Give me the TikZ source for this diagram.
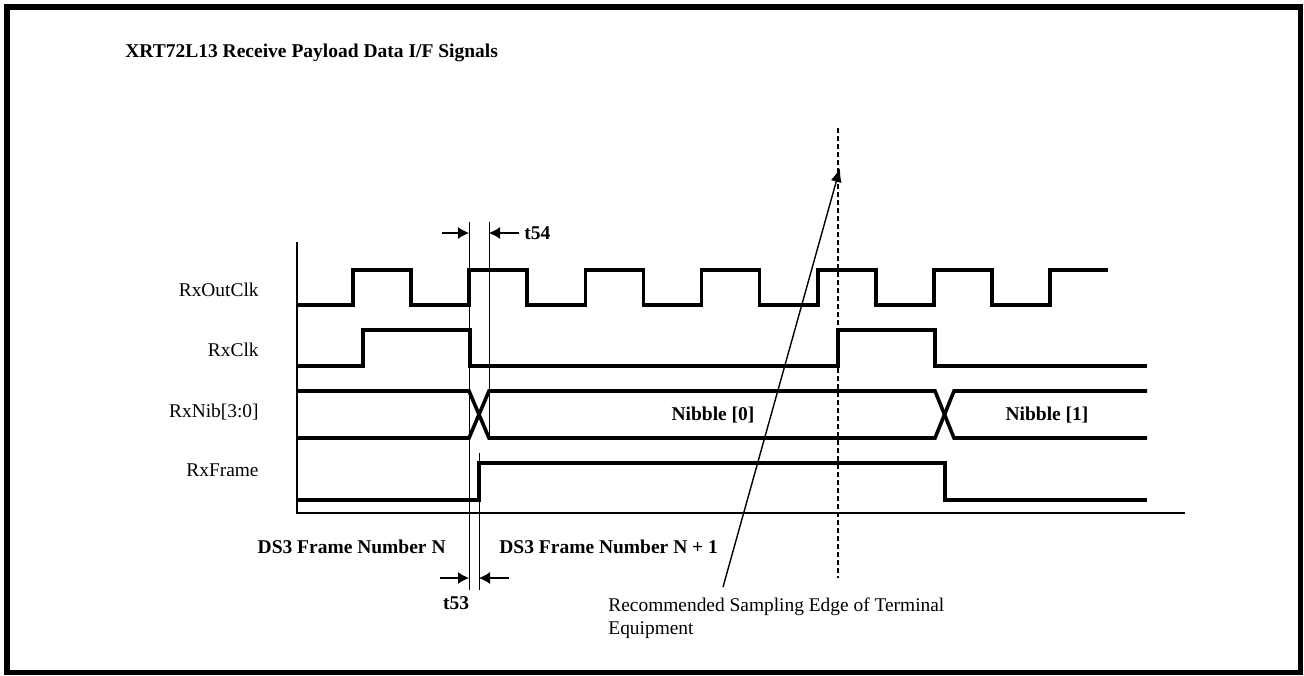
\documentclass[tikz,border=0pt]{standalone}
\usepackage{fontspec}
\setmainfont{Liberation Serif}
\usepackage{tikz}
\usetikzlibrary{arrows.meta,positioning,calc}

\begin{document}
\begin{tikzpicture}[x=0.5pt,y=-0.5pt,>=Latex,
  every node/.style={font=\fontsize{9.7}{11.5}\selectfont,inner sep=0pt},
  bl/.style={font=\fontsize{9.75}{12}\selectfont\bfseries},
  sig/.style={line width=1.8pt,line join=miter},
  axis/.style={line width=1pt},
  guide/.style={line width=0.5pt},
  tarrow/.style={line width=0.6pt,-{Latex[length=5.5pt,width=6pt]}}]
  \useasboundingbox (0,0) rectangle (1304,675);
  \draw[line width=2.75pt] (7,7) rectangle (1300.5,672.5);
  \node[bl,anchor=base west] (title) at (125,57) {XRT72L13 Receive Payload Data I/F Signals};
  % signal names
  \node[anchor=east] (lOut) at (259,290) {RxOutClk};
  \node[anchor=east] (lClk) at (259,350) {RxClk};
  \node[anchor=east] (lNib) at (259,412) {RxNib[3:0]};
  \node[anchor=east] (lFrm) at (259,470) {RxFrame};
  % axes
  \draw[axis] (297,242) -- (297,513) -- (1185,513);
  % guide lines
  \draw[guide] (469,222) -- (469,590);
  \draw[guide] (489,222) -- (489,440);
  \draw[guide] (479,453) -- (479,590);
  \draw[line width=0.7pt,dash pattern=on 2.5pt off 1.5pt] (838,128) -- (838,578);
  % waveforms
  \draw[sig] (297,305) foreach \k in {0,...,5}{ -- ({353+116.2*\k},305) -- ++(0,-35) -- ++(58,0) -- ++(0,35)} -- (1050,305) -- (1050,270) -- (1108,270);
  \draw[sig] (297,366) -- (363,366) -- (363,330) -- (470,330) -- (470,366) -- (838,366) -- (838,330) -- (935,330) -- (935,366) -- (1147,366);
  \draw[sig] (297,391) -- (469,391) -- (489,438) -- (935,438) -- (954,391) -- (1147,391);
  \draw[sig] (297,438) -- (469,438) -- (489,391) -- (935,391) -- (954,438) -- (1147,438);
  \draw[sig] (297,500) -- (479,500) -- (479,463) -- (945,463) -- (945,500) -- (1147,500);
  \node[bl] (nib0) at (713,415) {Nibble [0]};
  \node[bl] (nib1) at (1047,415) {Nibble [1]};
  % t54
  \coordinate (a54) at (442,233);
  \coordinate (b54) at (469,233);
  \coordinate (c54) at (519,233);
  \coordinate (d54) at (489,233);
  \draw[tarrow] (a54) -- (b54);
  \draw[tarrow] (c54) -- (d54);
  \node[bl,anchor=west] (t54) at (524,233) {t54};
  % t53
  \node[bl,anchor=east] (fN) at (446,547) {DS3 Frame Number N};
  \node[bl,anchor=west] (fN1) at (499,547) {DS3 Frame Number N + 1};
  \coordinate (a53) at (440,578);
  \coordinate (b53) at (469,578);
  \coordinate (c53) at (509,578);
  \coordinate (d53) at (479,578);
  \draw[tarrow] (a53) -- (b53);
  \draw[tarrow] (c53) -- (d53);
  \node[bl] (t53) at (456,603) {t53};
  % sampling edge
  \node[anchor=north west,align=left] (samp) at (608,597) {Recommended Sampling Edge of Terminal\\Equipment};
  \coordinate (edge) at (840,168);
  \coordinate (foot) at (723,587);
  \draw[line width=0.7pt,-{Latex[length=7pt,width=5.5pt]}] (foot) -- (edge);
\end{tikzpicture}
\end{document}
